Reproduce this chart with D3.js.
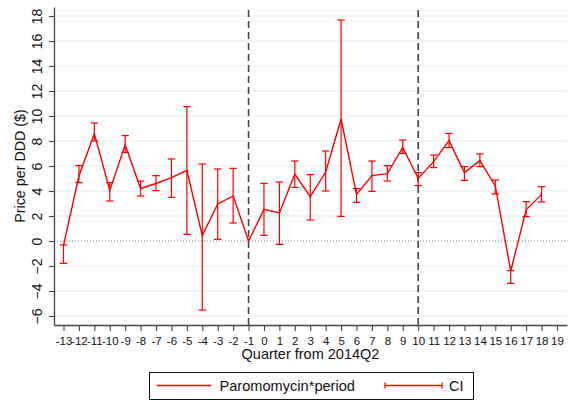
<!DOCTYPE html>
<html>
<head>
<meta charset="utf-8">
<script src="https://cdn.jsdelivr.net/npm/d3@7"></script>
<style>
  html, body { margin: 0; padding: 0; background: #fff; }
  svg { display: block; font-family: "Liberation Sans", Arial, Helvetica, sans-serif; }
</style>
</head>
<body>
<svg id="chart" width="572" height="402"></svg>
<script>
// ---- data ----
const quarters = [-13,-12,-11,-10,-9,-8,-7,-6,-5,-4,-3,-2,-1,0,1,2,3,4,5,6,7,8,9,10,11,12,13,14,15,16,17,18];
const estimate = [-0.35,5.2,8.6,4.05,7.68,4.2,4.6,5.07,5.65,0.43,2.96,3.6,0,2.53,2.24,5.36,3.55,5.52,9.76,3.73,5.23,5.39,7.49,5.01,6.35,8.03,5.47,6.43,4.4,-2.4,2.5,3.73];
const ciHigh = [-0.32,6.03,9.44,4.67,8.43,4.8,5.23,6.56,10.75,6.16,5.76,5.81,null,4.61,4.72,6.4,5.31,7.2,17.68,4.19,6.4,6.03,8.08,5.47,6.88,8.61,5.95,6.96,4.88,-2.37,3.15,4.35];
const ciLow = [-1.79,4.67,8.0,3.2,7.09,3.6,4.03,3.49,0.53,-5.52,0.13,1.44,null,0.45,-0.27,4.29,1.68,4.0,1.97,3.09,3.97,4.8,7.01,4.43,5.87,7.47,4.85,5.95,3.76,-3.39,1.95,3.12];
const xTicks = d3.range(-13, 20);
const yTicks = [-6,-4,-2,0,2,4,6,8,10,12,14,16,18];
const eventLines = [-1, 10];
const yTitle = "Price per DDD ($)";
const xTitle = "Quarter from 2014Q2";
const legendLabels = ["Paromomycin*period", "CI"];

// ---- layout ----
const svg = d3.select("#chart");
const pLeft = 54, pRight = 567, pTop = 7, pBottom = 325;
const x = d3.scaleLinear().domain([-13.616, 19.65]).range([pLeft, pRight]);
const y = d3.scaleLinear().domain([-6.72, 18.72]).range([pBottom, pTop]);
const red = "#ff0000";

// gridlines
svg.append("g").selectAll("line").data(yTicks.filter(v => v !== 0)).join("line")
  .attr("x1", pLeft).attr("x2", pRight)
  .attr("y1", d => y(d)).attr("y2", d => y(d))
  .attr("stroke", "#e1ebee").attr("stroke-width", 1);

// zero dotted line
svg.append("line")
  .attr("x1", pLeft).attr("x2", pRight).attr("y1", y(0)).attr("y2", y(0))
  .attr("stroke", "#888").attr("stroke-width", 1).attr("stroke-dasharray", "1,2");

// event dashed lines
svg.append("g").selectAll("line").data(eventLines).join("line")
  .attr("x1", d => x(d)).attr("x2", d => x(d))
  .attr("y1", y(18.72) + 3).attr("y2", pBottom)
  .attr("stroke", "#444").attr("stroke-width", 1.6).attr("stroke-dasharray", "7,4");

// data table
const rows = quarters.map((q, i) => ({q, est: estimate[i], lo: ciLow[i], hi: ciHigh[i]}));

// CI caps
const capW = 3.7;
const ci = svg.append("g").attr("stroke", red).attr("stroke-width", 1.2).attr("fill", "none");
rows.filter(r => r.lo !== null).forEach(r => {
  ci.append("line").attr("x1", x(r.q)).attr("x2", x(r.q)).attr("y1", y(r.lo)).attr("y2", y(r.hi));
  ci.append("line").attr("x1", x(r.q) - capW).attr("x2", x(r.q) + capW).attr("y1", y(r.lo)).attr("y2", y(r.lo));
  ci.append("line").attr("x1", x(r.q) - capW).attr("x2", x(r.q) + capW).attr("y1", y(r.hi)).attr("y2", y(r.hi));
});

// estimate line
svg.append("path").datum(rows)
  .attr("fill", "none").attr("stroke", red).attr("stroke-width", 1.4)
  .attr("stroke-linejoin", "miter")
  .attr("d", d3.line().x(d => x(d.q)).y(d => y(d.est)));

// axes
const yAxis = svg.append("g").attr("transform", `translate(${pLeft},0)`)
  .call(d3.axisLeft(y).tickValues(yTicks).tickSize(5).tickSizeOuter(0));
yAxis.select(".domain").attr("stroke", "#444").attr("stroke-width", 1.3);
yAxis.selectAll(".tick line").attr("stroke", "#444").attr("stroke-width", 1.1);
yAxis.selectAll("text")
  .attr("transform", "rotate(-90)").attr("x", 0).attr("y", -12).attr("dy", 0)
  .attr("text-anchor", "middle").attr("font-size", 14).attr("fill", "#111")
  .attr("font-family", "Liberation Sans, Arial, sans-serif");

const xAxis = svg.append("g").attr("transform", `translate(0,${pBottom})`)
  .call(d3.axisBottom(x).tickValues(xTicks).tickSize(6).tickSizeOuter(0));
xAxis.select(".domain").attr("stroke", "#444").attr("stroke-width", 1.3);
xAxis.selectAll(".tick line").attr("stroke", "#444").attr("stroke-width", 1.1);
xAxis.selectAll("text")
  .attr("y", 20).attr("dy", 0).attr("font-size", 11.5).attr("fill", "#111")
  .attr("font-family", "Liberation Sans, Arial, sans-serif")
  .text(d => d < 0 ? "-" + Math.abs(d) : String(d));

// titles
svg.append("text").attr("transform", `translate(25,166) rotate(-90)`)
  .attr("text-anchor", "middle").attr("font-size", 14.3).attr("fill", "#111").text(yTitle);
svg.append("text").attr("x", (pLeft + pRight) / 2).attr("y", 359)
  .attr("text-anchor", "middle").attr("font-size", 14.5).attr("fill", "#111").text(xTitle);

// legend
const lg = svg.append("g");
lg.append("rect").attr("x", 149.5).attr("y", 372.5).attr("width", 324).attr("height", 27)
  .attr("fill", "#fff").attr("stroke", "#111").attr("stroke-width", 1);
lg.append("line").attr("x1", 157).attr("x2", 211).attr("y1", 385.5).attr("y2", 385.5)
  .attr("stroke", red).attr("stroke-width", 1.4);
lg.append("text").attr("x", 219.5).attr("y", 390.5).attr("font-size", 14.6).attr("fill", "#111").text(legendLabels[0]);
lg.append("line").attr("x1", 385).attr("x2", 442).attr("y1", 385.5).attr("y2", 385.5)
  .attr("stroke", red).attr("stroke-width", 1.3);
[385, 442].forEach(cx => lg.append("line").attr("x1", cx).attr("x2", cx).attr("y1", 382.5).attr("y2", 388.5)
  .attr("stroke", red).attr("stroke-width", 1.3));
lg.append("text").attr("x", 449).attr("y", 390.5).attr("font-size", 14.6).attr("fill", "#111").text(legendLabels[1]);
</script>
</body>
</html>
